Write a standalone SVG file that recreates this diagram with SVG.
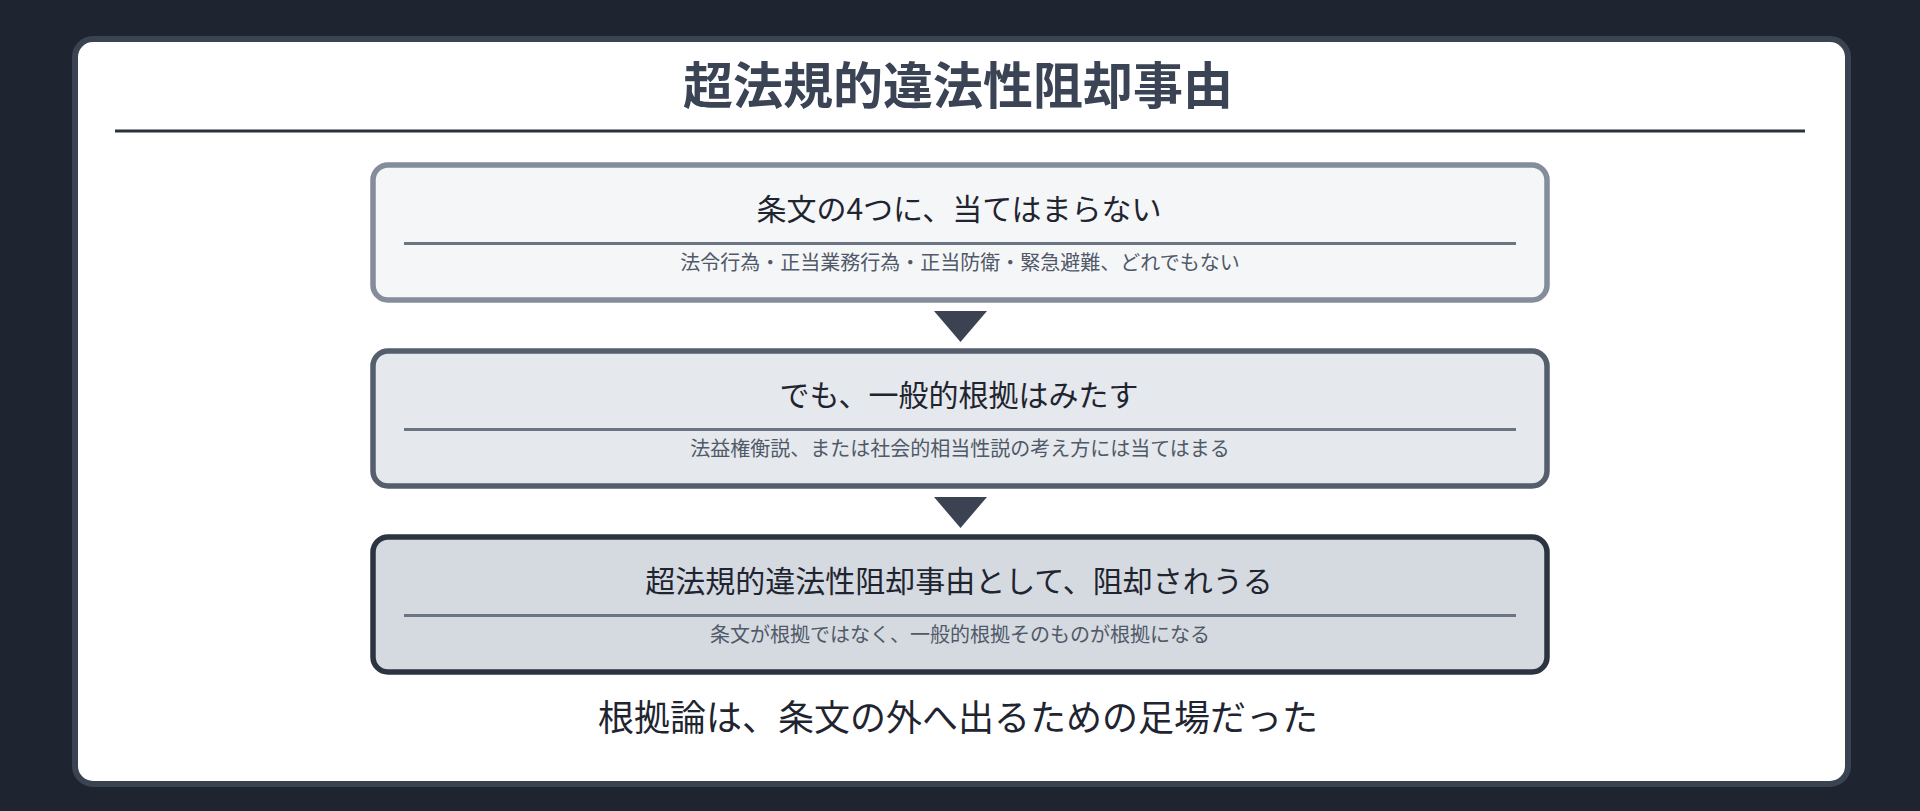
<svg xmlns="http://www.w3.org/2000/svg" width="1920" height="811" viewBox="0 0 1920 811">
  <style>
    .jp { font-family: "Noto Sans CJK JP", "Noto Sans", sans-serif; }
    .title { font-size: 50px; font-weight: 700; fill: #3a4454; }
    .head { font-size: 30px; fill: #1f2530; }
    .sub { font-size: 20px; fill: #505968; }
    .foot { font-size: 36px; fill: #1f2530; }
    .div { stroke: #6b7482; stroke-width: 3; }
    .arrow { fill: #3b4352; }
  </style>
  <rect x="0" y="0" width="1920" height="811" fill="#1f2530"/>
  <g id="panel">
    <rect x="75" y="39" width="1773" height="745" rx="18" fill="#ffffff" stroke="#3a4352" stroke-width="6"/>
    <text class="jp title" x="958" y="104" text-anchor="middle">超法規的違法性阻却事由</text>
    <line x1="115" y1="131" x2="1805" y2="131" stroke="#2b313c" stroke-width="3"/>
  </g>
  <g id="node1">
    <rect x="373" y="165" width="1174" height="135" rx="15" fill="#f5f6f8" stroke="#858d9a" stroke-width="5.5"/>
    <text class="jp head" x="959" y="220" text-anchor="middle">条文の4つに、当てはまらない</text>
    <line class="div" x1="404" y1="243.5" x2="1516" y2="243.5"/>
    <text class="jp sub" x="960" y="270" text-anchor="middle">法令行為・正当業務行為・正当防衛・緊急避難、どれでもない</text>
  </g>
  <g id="node2">
    <rect x="373" y="351" width="1174" height="135" rx="15" fill="#e5e8ec" stroke="#555e6c" stroke-width="5.5"/>
    <text class="jp head" x="959" y="406" text-anchor="middle">でも、一般的根拠はみたす</text>
    <line class="div" x1="404" y1="429.5" x2="1516" y2="429.5"/>
    <text class="jp sub" x="960" y="456" text-anchor="middle">法益権衡説、または社会的相当性説の考え方には当てはまる</text>
  </g>
  <g id="node3">
    <rect x="373" y="537" width="1174" height="135" rx="15" fill="#d5d9e0" stroke="#2d3441" stroke-width="5.5"/>
    <text class="jp head" x="959" y="592" text-anchor="middle">超法規的違法性阻却事由として、阻却されうる</text>
    <line class="div" x1="404" y1="615.5" x2="1516" y2="615.5"/>
    <text class="jp sub" x="960" y="642" text-anchor="middle">条文が根拠ではなく、一般的根拠そのものが根拠になる</text>
  </g>
  <g id="connectors">
    <polygon class="arrow" points="934,311 987,311 960.5,342"/>
    <polygon class="arrow" points="934,497 987,497 960.5,528"/>
  </g>
  <g id="footer">
    <text class="jp foot" x="958" y="731" text-anchor="middle">根拠論は、条文の外へ出るための足場だった</text>
  </g>
</svg>
